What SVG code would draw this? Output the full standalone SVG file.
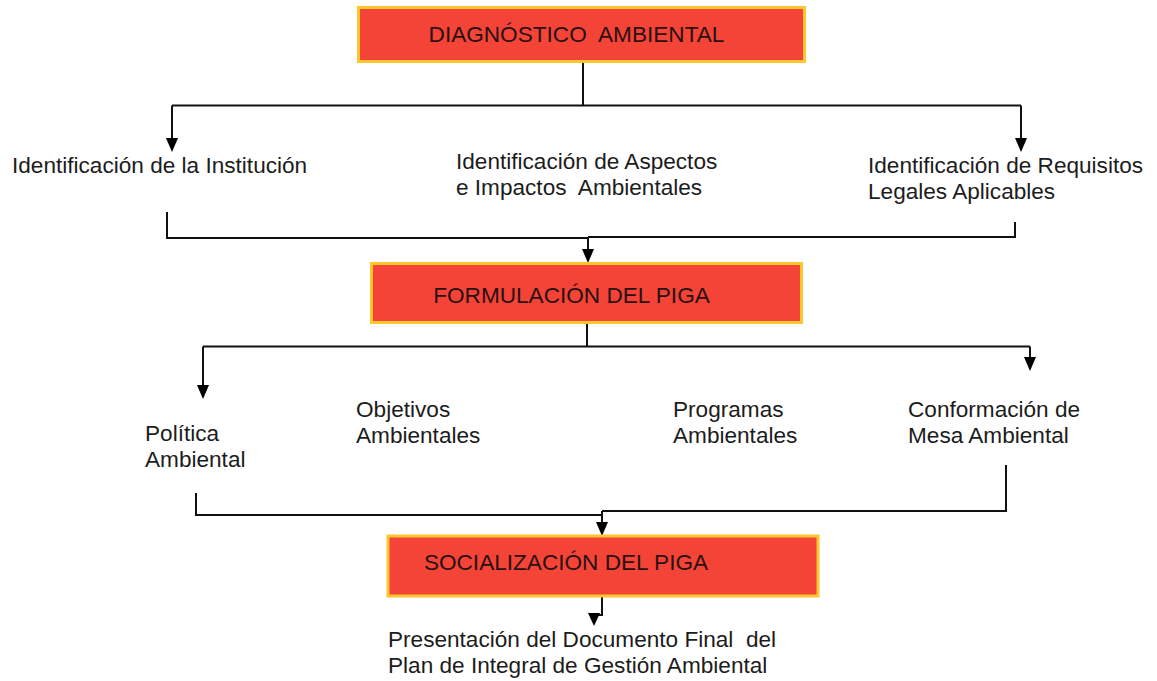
<svg xmlns="http://www.w3.org/2000/svg" width="1157" height="681" viewBox="0 0 1157 681">
<style>
  .box { fill: #F44437; stroke: #FCC62E; stroke-width: 3; }
  .t { font-family: "Liberation Sans", Arial, sans-serif; font-size: 22.6px; fill: #1c1c1c; white-space: pre; }
  .bt { font-family: "Liberation Sans", Arial, sans-serif; font-size: 22.6px; fill: #2a1010; white-space: pre; text-anchor: middle; }
  .ln { fill: none; stroke: #111; stroke-width: 2; }
</style>
<rect width="1157" height="681" fill="#fff"/>

<g id="connectors">
  <path class="ln" d="M583,63 V105.5 M172,105.5 H1021"/>
  <path class="ln" d="M172,105.5 V138" />
  <path d="M166,138 L178,138 L172,152 Z" fill="#000"/>
  <path class="ln" d="M1021,105.5 V138"/>
  <path d="M1015,138 L1027,138 L1021,152 Z" fill="#000"/>

  <path class="ln" d="M167,212 V238 H588 M588,237 H1015 V222 M588,237 V249"/>
  <path d="M582,249 L594,249 L588,263 Z" fill="#000"/>

  <path class="ln" d="M587,323 V346.5 M203,346.5 H1030 M203,346.5 V385 M1030,346.5 V357"/>
  <path d="M197,385 L209,385 L203,399 Z" fill="#000"/>
  <path d="M1024,357 L1036,357 L1030,371 Z" fill="#000"/>

  <path class="ln" d="M196,493 V515 H602 M602,511 H1006 V465 M602,511 V522"/>
  <path d="M596,522 L608,522 L602,536 Z" fill="#000"/>

  <path class="ln" d="M602,597 V615 H594 V613"/>
  <path d="M588,613 L600,613 L594,626 Z" fill="#000"/>
</g>

<g id="n-diagnostico">
  <rect class="box" x="358.5" y="7.5" width="446" height="54"/>
  <text class="bt" x="576.5" y="42">DIAGNÓSTICO  AMBIENTAL</text>
</g>
<g id="n-institucion">
  <text class="t" x="12" y="173">Identificación de la Institución</text>
</g>
<g id="n-aspectos">
  <text class="t" x="456" y="169">Identificación de Aspectos</text>
  <text class="t" x="456" y="195">e Impactos  Ambientales</text>
</g>
<g id="n-requisitos">
  <text class="t" x="868" y="173">Identificación de Requisitos</text>
  <text class="t" x="868" y="199">Legales Aplicables</text>
</g>
<g id="n-formulacion">
  <rect class="box" x="371.5" y="263.5" width="430" height="59"/>
  <text class="bt" x="571.5" y="303">FORMULACIÓN DEL PIGA</text>
</g>
<g id="n-politica">
  <text class="t" x="145" y="441">Política</text>
  <text class="t" x="145" y="467">Ambiental</text>
</g>
<g id="n-objetivos">
  <text class="t" x="356" y="417">Objetivos</text>
  <text class="t" x="356" y="443">Ambientales</text>
</g>
<g id="n-programas">
  <text class="t" x="673" y="417">Programas</text>
  <text class="t" x="673" y="443">Ambientales</text>
</g>
<g id="n-mesa">
  <text class="t" x="908" y="417">Conformación de</text>
  <text class="t" x="908" y="443">Mesa Ambiental</text>
</g>
<g id="n-socializacion">
  <rect class="box" x="388" y="536" width="430" height="60"/>
  <text class="bt" x="566" y="570">SOCIALIZACIÓN DEL PIGA</text>
</g>
<g id="n-presentacion">
  <text class="t" x="388" y="647">Presentación del Documento Final  del</text>
  <text class="t" x="388" y="673">Plan de Integral de Gestión Ambiental</text>
</g>
</svg>
